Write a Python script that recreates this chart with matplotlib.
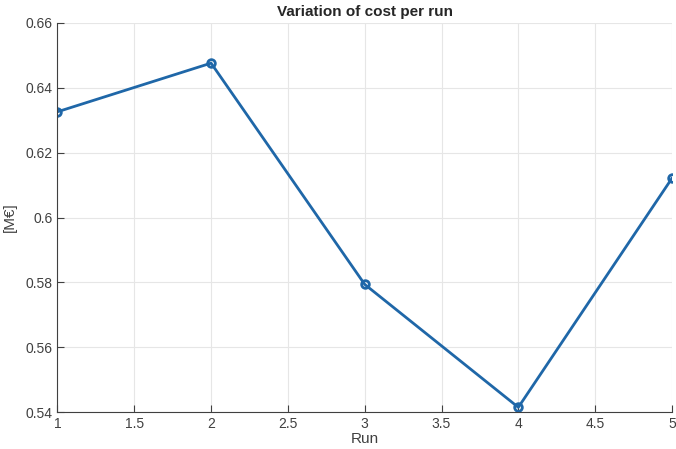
import numpy as np
import matplotlib
matplotlib.use("Agg")
import matplotlib.pyplot as plt

plt.rcParams['font.family'] = ['Liberation Sans', 'DejaVu Sans']

runs = [1, 2, 3, 4, 5]
cost = [0.6326, 0.6476, 0.5794, 0.5415, 0.6121]

fig = plt.figure(figsize=(6.76, 4.49), dpi=100)
ax = fig.add_axes([0.085, 0.082, 0.909, 0.867])

ax.plot(runs, cost, color='#1f67a8', linewidth=2, marker='o', markersize=5.5,
        markerfacecolor='none', markeredgewidth=2)

ax.set_xlim(1, 5)
ax.set_ylim(0.54, 0.66)
ax.set_xticks(np.arange(1, 5.01, 0.5))
ax.set_xticklabels(['1', '1.5', '2', '2.5', '3', '3.5', '4', '4.5', '5'])
ax.set_yticks(np.arange(0.54, 0.6601, 0.02))
ax.set_yticklabels(['0.54', '0.56', '0.58', '0.6', '0.62', '0.64', '0.66'])

ax.grid(True, color='#e6e6e6', linewidth=0.8)
ax.set_axisbelow(True)
for s in ['top', 'right']:
    ax.spines[s].set_visible(False)
for s in ['left', 'bottom']:
    ax.spines[s].set_color('#404040')
    ax.spines[s].set_linewidth(0.8)
ax.tick_params(direction='in', length=5, colors='#404040', labelsize=10)

ax.set_xlabel('Run', fontsize=11, color='#404040', labelpad=1)
ax.set_ylabel('[M€]', fontsize=11, color='#404040', labelpad=6)
ax.set_title('Variation of cost per run', fontsize=11, fontweight='bold', color='#262626', pad=5)

fig.savefig('out.png', dpi=100)
